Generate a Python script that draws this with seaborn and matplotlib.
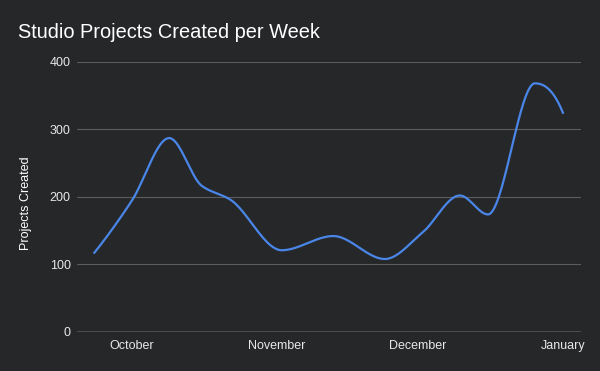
#!/usr/bin/env python3
import numpy as np
import pandas as pd
import seaborn as sns
import matplotlib.pyplot as plt
import matplotlib.dates as mdates

sns.set_theme(style="dark")
plt.rcParams["font.family"] = ["Liberation Sans", "DejaVu Sans"]

BG = "#262729"
LINE = "#4a86e8"
GRID = "#5c5d5f"
TEXT = "#e8e8e8"

# values (curve turning points)
week_dates = ["2021-09-23", "2021-10-01", "2021-10-09", "2021-10-16", "2021-10-22",
              "2021-11-02", "2021-11-13", "2021-11-24", "2021-12-02", "2021-12-10",
              "2021-12-16", "2021-12-26", "2022-01-01"]
projects = [117, 194, 287, 216, 196, 121, 142, 108, 147, 202, 174, 368, 324]

month_ticks = ["2021-10-01", "2021-11-01", "2021-12-01", "2022-01-01"]
month_labels = ["October", "November", "December", "January"]
y_ticks = [0, 100, 200, 300, 400]


def pchip(x, y, xs):
    # monotone cubic (Fritsch-Carlson) so the curve passes through every point
    x = np.asarray(x, float); y = np.asarray(y, float)
    h = np.diff(x); delta = np.diff(y) / h
    n = len(x)
    d = np.zeros(n)
    for k in range(1, n - 1):
        if delta[k - 1] * delta[k] > 0:
            w1 = 2 * h[k] + h[k - 1]
            w2 = h[k] + 2 * h[k - 1]
            d[k] = (w1 + w2) / (w1 / delta[k - 1] + w2 / delta[k])
    def end(h0, h1, d0, d1):
        m = ((2 * h0 + h1) * d0 - h0 * d1) / (h0 + h1)
        if np.sign(m) != np.sign(d0):
            m = 0.0
        elif np.sign(d0) != np.sign(d1) and abs(m) > abs(3 * d0):
            m = 3 * d0
        return m
    d[0] = end(h[0], h[1], delta[0], delta[1])
    d[-1] = end(h[-1], h[-2], delta[-1], delta[-2])
    idx = np.clip(np.searchsorted(x, xs) - 1, 0, n - 2)
    t = (xs - x[idx]) / h[idx]
    h00 = 2 * t**3 - 3 * t**2 + 1
    h10 = t**3 - 2 * t**2 + t
    h01 = -2 * t**3 + 3 * t**2
    h11 = t**3 - t**2
    return h00 * y[idx] + h10 * h[idx] * d[idx] + h01 * y[idx + 1] + h11 * h[idx] * d[idx + 1]


df = pd.DataFrame({"date": pd.to_datetime(week_dates), "projects": projects})
xnum = mdates.date2num(df["date"])
xs = np.linspace(xnum[0], xnum[-1], 600)
smooth = pd.DataFrame({"date": mdates.num2date(xs), "projects": pchip(xnum, df["projects"], xs)})
smooth["date"] = pd.to_datetime(smooth["date"]).dt.tz_localize(None)

fig = plt.figure(figsize=(6, 3.71), dpi=100, facecolor=BG)
ax = fig.add_axes([77 / 600, 1 - 332 / 371, 504 / 600, 270.3 / 371])
ax.set_facecolor(BG)

sns.lineplot(data=smooth, x="date", y="projects", color=LINE, linewidth=1.6, ax=ax)

ax.set_ylim(0, 400)
ax.set_xlim(mdates.date2num(pd.Timestamp("2021-09-19 08:00")), mdates.date2num(pd.Timestamp("2022-01-04 20:00")))
ax.set_yticks(y_ticks)
ax.set_xticks(mdates.date2num(pd.to_datetime(month_ticks)))
ax.set_xticklabels(month_labels)
ax.tick_params(axis="both", length=0, labelsize=9, colors=TEXT)
ax.tick_params(axis="y", pad=4.5)
ax.tick_params(axis="x", pad=5.5)
ax.grid(axis="y", color=GRID, linewidth=0.8)
ax.grid(axis="x", visible=False)
for s in ax.spines.values():
    s.set_visible(False)
ax.axhline(0, color="#d9d9d9", linewidth=1.0, zorder=1)
ax.set_xlabel("")
ax.set_ylabel("")

fig.text(18 / 600, 1 - 38.5 / 371, "Studio Projects Created per Week",
         fontsize=14.4, color="white", va="baseline", ha="left")
fig.text(26 / 600, 1 - 203 / 371, "Projects Created", rotation=90,
         fontsize=9, color="white", va="center", ha="center")

fig.savefig("out.png", dpi=100, facecolor=BG)
